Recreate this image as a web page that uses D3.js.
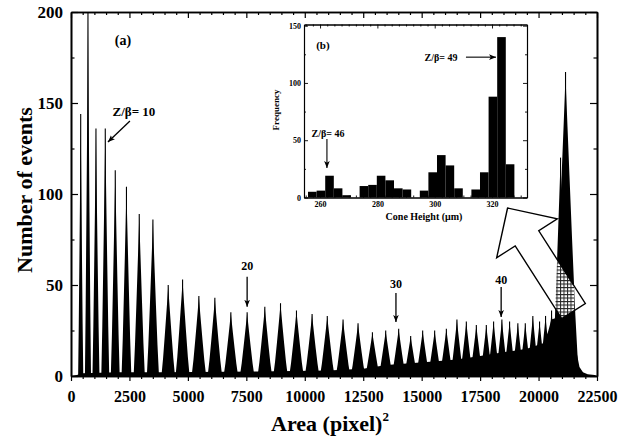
<!DOCTYPE html>
<html>
<head>
<meta charset="utf-8">
<script src="https://d3js.org/d3.v7.min.js"></script>
<style>
  body { margin: 0; background: #fff; }
  svg { display: block; font-family: "Liberation Serif", "Times New Roman", serif; font-weight: bold; }
</style>
</head>
<body>
<svg id="chart" width="618" height="441"></svg>
<script>
// ---- main histogram (a): one peak per Z/beta ----
const peakZ = [7, 8, 9, 10, 11, 12, 13, 14, 15, 16, 17, 18, 19, 20, 21, 22, 23, 24, 25, 26, 27, 28,
               29, 30, 31, 32, 33, 34, 35, 36, 37, 38, 39, 40, 41, 42, 43, 44, 45, 46, 47, 48, 49];
const peakArea = [415, 726, 1068, 1466, 1893, 2372, 2919, 3504, 4158, 4773, 5470, 6154, 6838, 7534,
                  8291, 8962, 9645, 10312, 10962, 11637, 12278, 12893, 13462, 14017, 14530, 15043,
                  15556, 16056, 16509, 16910, 17338, 17765, 18077, 18432, 18761, 19115, 19432,
                  19756, 20043, 20299, 20556, 20940, 21154];
const peakCount = [144, 200, 136, 136, 113, 104, 89, 86, 50, 53, 44, 43, 35, 35, 38, 40, 36, 34, 33,
                   31, 29, 24, 25, 26, 22, 25, 25, 26, 31, 30, 28, 28, 30, 31, 30, 29, 29, 33, 30,
                   33, 36, 120, 167];
// half width of each peak at its base (area units)
const peakWidth = [110, 130, 150, 170, 190, 210, 240, 260, 290, 300, 310, 310, 310, 310, 310, 310,
                   310, 310, 310, 310, 310, 310, 300, 300, 290, 290, 290, 290, 280, 280, 280, 270,
                   270, 270, 270, 270, 270, 270, 270, 270, 270, 350, 560];

// continuum under the peaks
const bgArea  = [0, 250, 500, 2000, 4000, 8000, 11000, 12500, 13500, 14500, 15500, 16500, 17500,
                 18500, 19500, 20200, 20400, 20550, 21000, 21350, 21550, 21750, 21900, 22100, 22400, 22500];
const bgCount = [0, 0.5, 1.5, 2, 2, 2.5, 3, 4, 6, 7, 8, 9, 11, 13, 15, 18, 24, 31, 33, 30, 18, 5, 2, 1, 0.5, 0];

// ---- inset (b): cone height histogram ----
const binStart = [255.8, 258.8, 261.8, 264.8, 267.8, 270.8, 273.8, 276.8, 279.8, 282.8, 285.8, 288.8,
                  291.8, 294.8, 297.8, 300.8, 303.8, 306.8, 309.8, 312.8, 315.8, 318.8, 321.8, 324.8];
const binCount = [5, 6, 19, 8, 2, 0, 10, 11, 19, 15, 8, 7, 0, 6, 22, 37, 28, 8, 0, 7, 22, 88, 140, 29];
const binWidth = 3;

// ---- ticks ----
const xTicks = [0, 2500, 5000, 7500, 10000, 12500, 15000, 17500, 20000, 22500];
const yTicks = [0, 50, 100, 150, 200];
const insetXTicks = [260, 280, 300, 320];
const insetYTicks = [0, 50, 100, 150];

// ---- annotations ----
const zLabel = ["20", "30", "40"];
const zLabelArea = [7534, 13900, 18400];
const zLabelCount = [60.5, 50.5, 52.7];
const zArrowFrom = [54.5, 45.6, 48.9];
const zArrowTo = [38, 29.7, 32.4];
// big hollow arrow from the Z=49 peak to the inset (data coords)
const bigArrowTip = [18675, 92.3];
const bigArrowTail = [21496, 35.7];

const svg = d3.select("#chart");

const x = d3.scaleLinear().domain([0, 22500]).range([71, 597]);
const y = d3.scaleLinear().domain([0, 200]).range([376, 12]);

const defs = svg.append("defs");
defs.append("clipPath").attr("id", "plotClip")
    .append("rect").attr("x", 71).attr("y", 12).attr("width", 526).attr("height", 364);

const pat = defs.append("pattern").attr("id", "grid")
    .attr("width", 3.5).attr("height", 3.5).attr("patternUnits", "userSpaceOnUse");
pat.append("rect").attr("width", 3.5).attr("height", 3.5).attr("fill", "#fff");
pat.append("path").attr("d", "M0,0.5H3.5M0.5,0V3.5").attr("stroke", "#222").attr("stroke-width", 1);

defs.append("marker").attr("id", "head")
    .attr("viewBox", "0 0 10 8").attr("refX", 10).attr("refY", 4)
    .attr("markerWidth", 7).attr("markerHeight", 6).attr("markerUnits", "userSpaceOnUse")
    .attr("orient", "auto")
    .append("path").attr("d", "M0,0L10,4L0,8L2.5,4z").attr("fill", "#000");

// shape of one peak: [fraction of half width, fraction of height]
const spike = [[-1, 0], [-0.75, 0.2], [-0.5, 0.45], [-0.3, 0.66], [-0.15, 0.82], [-0.05, 0.93],
               [-0.01, 0.98], [0, 1], [0.01, 0.98], [0.05, 0.93], [0.15, 0.82], [0.3, 0.66],
               [0.5, 0.45], [0.75, 0.2], [1, 0]];

function drawData(g, fill) {
  const bg = bgArea.map((a, i) => [a, bgCount[i]]);
  g.append("path")
    .attr("d", d3.area().x(d => x(d[0])).y0(y(0)).y1(d => y(d[1]))(bg))
    .attr("fill", fill);
  const line = d3.line();
  g.selectAll("path.peak").data(peakZ).join("path")
    .attr("class", "peak")
    .attr("d", (z, i) => line(spike.map(([f, h]) => [x(peakArea[i] + f * peakWidth[i]), y(peakCount[i] * h)])) + "Z")
    .attr("fill", fill);
  g.selectAll("line.top").data(peakZ).join("line")
    .attr("class", "top")
    .attr("x1", (z, i) => x(peakArea[i])).attr("x2", (z, i) => x(peakArea[i]))
    .attr("y1", y(0)).attr("y2", (z, i) => y(peakCount[i]))
    .attr("stroke", fill).attr("stroke-width", 1.1);
}

const plot = svg.append("g").attr("clip-path", "url(#plotClip)");
drawData(plot, "#000");

// big hollow arrow
const tp = [x(bigArrowTip[0]), y(bigArrowTip[1])];
const tl = [x(bigArrowTail[0]), y(bigArrowTail[1])];
const len = Math.hypot(tl[0] - tp[0], tl[1] - tp[1]);
const u = [(tl[0] - tp[0]) / len, (tl[1] - tp[1]) / len];
const pv = [-u[1], u[0]];
const headLen = 36, headHalf = 36, shaftHalf = 14;
const base = [tp[0] + u[0] * headLen, tp[1] + u[1] * headLen];
const off = (pt, k) => [pt[0] + pv[0] * k, pt[1] + pv[1] * k];
const arrowPts = [tp, off(base, headHalf), off(base, shaftHalf), off(tl, shaftHalf),
                  off(tl, -shaftHalf), off(base, -shaftHalf), off(base, -headHalf)];
const arrowD = d3.line()(arrowPts) + "Z";
defs.append("clipPath").attr("id", "arrowClip").append("path").attr("d", arrowD);
svg.append("path").attr("d", arrowD).attr("fill", "#fff");
drawData(svg.append("g").attr("clip-path", "url(#arrowClip)"), "url(#grid)");
svg.append("path").attr("d", arrowD).attr("fill", "none").attr("stroke", "#000").attr("stroke-width", 1.4);

// ---- main axes ----
function styleAxis(g, size) {
  g.attr("font-family", null).attr("font-size", size).attr("font-weight", "bold");
  g.select(".domain").attr("stroke-width", 1.6);
  g.selectAll(".tick line").attr("stroke-width", 1.2);
  g.selectAll(".tick text").attr("fill", "#000");
}
const xMinor = d3.range(0, 22501, 500).filter(v => !xTicks.includes(v));
const yMinor = [25, 75, 125, 175];
const fmt = d3.format("d");

svg.append("g").attr("transform", `translate(0,${y(0)})`)
  .call(d3.axisBottom(x).tickValues(xTicks).tickSize(5).tickSizeOuter(0).tickPadding(10).tickFormat(fmt))
  .call(g => styleAxis(g, 16));
svg.append("g").attr("transform", `translate(0,${y(0)})`)
  .call(d3.axisBottom(x).tickValues(xMinor).tickSize(3).tickSizeOuter(0).tickFormat(""))
  .call(g => styleAxis(g, 16));
svg.append("g").attr("transform", `translate(0,${y(200)})`)
  .call(d3.axisTop(x).tickValues(xTicks).tickSize(-6).tickSizeOuter(0).tickFormat(""))
  .call(g => styleAxis(g, 16));
svg.append("g").attr("transform", `translate(0,${y(200)})`)
  .call(d3.axisTop(x).tickValues(xMinor).tickSize(-3).tickSizeOuter(0).tickFormat(""))
  .call(g => styleAxis(g, 16));
svg.append("g").attr("transform", `translate(${x(0)},0)`)
  .call(d3.axisLeft(y).tickValues(yTicks).tickSize(-7).tickSizeOuter(0).tickPadding(8).tickFormat(fmt))
  .call(g => styleAxis(g, 17));
svg.append("g").attr("transform", `translate(${x(0)},0)`)
  .call(d3.axisLeft(y).tickValues(yMinor).tickSize(-3.5).tickSizeOuter(0).tickFormat(""))
  .call(g => styleAxis(g, 17));
svg.append("g").attr("transform", `translate(${x(22500)},0)`)
  .call(d3.axisRight(y).tickValues(yTicks).tickSize(-7).tickSizeOuter(0).tickFormat(""))
  .call(g => styleAxis(g, 17));
svg.append("g").attr("transform", `translate(${x(22500)},0)`)
  .call(d3.axisRight(y).tickValues(yMinor).tickSize(-3.5).tickSizeOuter(0).tickFormat(""))
  .call(g => styleAxis(g, 17));

// axis titles
svg.append("text")
  .attr("transform", "translate(32,190) rotate(-90)")
  .attr("text-anchor", "middle").attr("font-size", 22)
  .text("Number of events");
const xt = svg.append("text")
  .attr("x", 330).attr("y", 431).attr("text-anchor", "middle").attr("font-size", 22);
xt.append("tspan").text("Area (pixel)");
xt.append("tspan").attr("dy", -10).attr("font-size", 13).text("2");

// annotations in (a)
svg.append("text").attr("x", x(2222)).attr("y", y(184.6)).attr("dy", "0.35em")
  .attr("text-anchor", "middle").attr("font-size", 14).text("(a)");
svg.append("text").attr("x", x(2692)).attr("y", y(145.6)).attr("dy", "0.35em")
  .attr("text-anchor", "middle").attr("font-size", 13).text("Z/β= 10");
svg.append("line")
  .attr("x1", x(2521)).attr("y1", y(140.1)).attr("x2", x(1581)).attr("y2", y(128.6))
  .attr("stroke", "#000").attr("stroke-width", 1.3).attr("marker-end", "url(#head)");

zLabel.forEach((t, i) => {
  svg.append("text").attr("x", x(zLabelArea[i])).attr("y", y(zLabelCount[i])).attr("dy", "0.35em")
    .attr("text-anchor", "middle").attr("font-size", 12).text(t);
  svg.append("line")
    .attr("x1", x(zLabelArea[i])).attr("x2", x(zLabelArea[i]))
    .attr("y1", y(zArrowFrom[i])).attr("y2", y(zArrowTo[i]))
    .attr("stroke", "#000").attr("stroke-width", 1.3).attr("marker-end", "url(#head)");
});

// ---- inset (b) ----
const ix = d3.scaleLinear().domain([254.4, 332.2]).range([304, 527]);
const iy = d3.scaleLinear().domain([0, 151]).range([197.5, 24.5]);
const inset = svg.append("g");
inset.append("rect").attr("x", 304).attr("y", 24.5).attr("width", 223).attr("height", 173).attr("fill", "#fff");
inset.selectAll("rect.bin").data(binCount).join("rect")
  .attr("class", "bin")
  .attr("x", (d, i) => ix(binStart[i]))
  .attr("width", (d, i) => ix(binStart[i] + binWidth) - ix(binStart[i]))
  .attr("y", d => iy(d))
  .attr("height", d => iy(0) - iy(d))
  .attr("fill", "#000");

function styleInset(g) {
  g.attr("font-family", null).attr("font-size", 8).attr("font-weight", "bold");
  g.select(".domain").attr("stroke-width", 1.1);
  g.selectAll(".tick line").attr("stroke-width", 0.9);
}
const ixMinor = d3.range(255, 332.2, 2.5).filter(v => !insetXTicks.includes(v));
const iyMinor = [25, 75, 125];
inset.append("g").attr("transform", `translate(0,${iy(0)})`)
  .call(d3.axisBottom(ix).tickValues(insetXTicks).tickSize(-4).tickSizeOuter(0).tickPadding(4))
  .call(styleInset);
inset.append("g").attr("transform", `translate(0,${iy(0)})`)
  .call(d3.axisBottom(ix).tickValues(ixMinor).tickSize(-2).tickSizeOuter(0).tickFormat(""))
  .call(styleInset);
inset.append("g").attr("transform", `translate(0,${iy.range()[1]})`)
  .call(d3.axisTop(ix).tickValues(insetXTicks).tickSize(-4).tickSizeOuter(0).tickFormat(""))
  .call(styleInset);
inset.append("g").attr("transform", `translate(0,${iy.range()[1]})`)
  .call(d3.axisTop(ix).tickValues(ixMinor).tickSize(-2).tickSizeOuter(0).tickFormat(""))
  .call(styleInset);
inset.append("g").attr("transform", `translate(${ix.range()[0]},0)`)
  .call(d3.axisLeft(iy).tickValues(insetYTicks).tickSize(-4).tickSizeOuter(0).tickPadding(3))
  .call(styleInset);
inset.append("g").attr("transform", `translate(${ix.range()[0]},0)`)
  .call(d3.axisLeft(iy).tickValues(iyMinor).tickSize(-2).tickSizeOuter(0).tickFormat(""))
  .call(styleInset);
inset.append("g").attr("transform", `translate(${ix.range()[1]},0)`)
  .call(d3.axisRight(iy).tickValues(insetYTicks).tickSize(-4).tickSizeOuter(0).tickFormat(""))
  .call(styleInset);
inset.append("g").attr("transform", `translate(${ix.range()[1]},0)`)
  .call(d3.axisRight(iy).tickValues(iyMinor).tickSize(-2).tickSizeOuter(0).tickFormat(""))
  .call(styleInset);

inset.append("text").attr("transform", "translate(279,110) rotate(-90)")
  .attr("text-anchor", "middle").attr("font-size", 9).text("Frequency");
inset.append("text").attr("x", 424).attr("y", 220)
  .attr("text-anchor", "middle").attr("font-size", 10).text("Cone Height (μm)");
inset.append("text").attr("x", ix(261)).attr("y", iy(133)).attr("dy", "0.35em")
  .attr("text-anchor", "middle").attr("font-size", 11).text("(b)");
inset.append("text").attr("x", ix(302.2)).attr("y", iy(122.5)).attr("dy", "0.35em")
  .attr("text-anchor", "middle").attr("font-size", 10).text("Z/β= 49");
inset.append("line")
  .attr("x1", ix(310.9)).attr("x2", ix(321.4)).attr("y1", iy(122.5)).attr("y2", iy(122.5))
  .attr("stroke", "#000").attr("stroke-width", 1.1).attr("marker-end", "url(#head)");
inset.append("text").attr("x", ix(262.8)).attr("y", iy(56.2)).attr("dy", "0.35em")
  .attr("text-anchor", "middle").attr("font-size", 10).text("Z/β= 46");
inset.append("line")
  .attr("x1", ix(262.4)).attr("x2", ix(262.4)).attr("y1", iy(51)).attr("y2", iy(25.7))
  .attr("stroke", "#000").attr("stroke-width", 1.1).attr("marker-end", "url(#head)");
</script>
</body>
</html>
